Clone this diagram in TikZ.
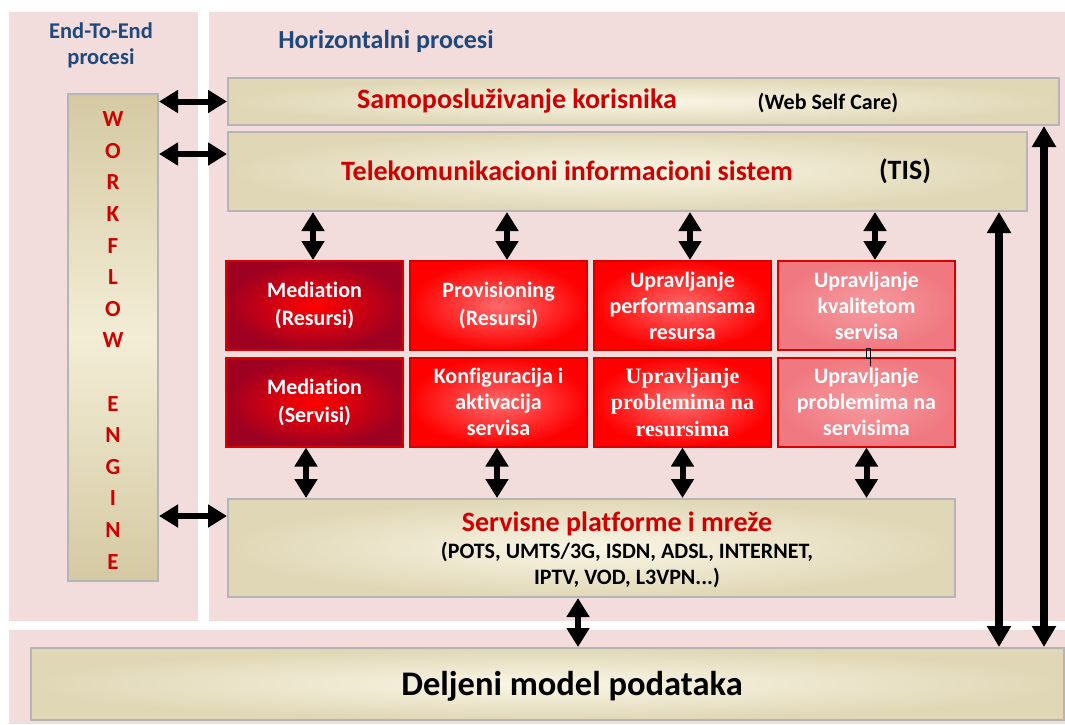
\documentclass[tikz,border=0pt]{standalone}
\usepackage{fontspec}
\setmainfont{Carlito}[Ligatures=NoCommon]
\newfontfamily\timesfont{Liberation Serif}
\usetikzlibrary{arrows.meta,positioning}

\definecolor{panelpink}{HTML}{F2DDDC}
\definecolor{boxgray}{HTML}{B5B5B5}
\definecolor{beigein}{HTML}{FAF6E6}
\definecolor{beigeout}{HTML}{E0D7B6}
\definecolor{wfdark}{HTML}{D4C9A2}
\definecolor{wflight}{HTML}{F3EDD6}
\definecolor{titleblue}{HTML}{1F497D}
\definecolor{labelred}{HTML}{D00000}
\definecolor{darkred}{HTML}{9E0022}
\definecolor{lightred}{HTML}{FF6A6A}
\definecolor{redline}{HTML}{D80000}
\definecolor{qosred}{HTML}{F07880}
\definecolor{qoslight}{HTML}{F59BA0}

\begin{document}
\begin{tikzpicture}[x=1pt, y=-1pt,
    panel/.style={fill=panelpink, draw=none, anchor=north west, inner sep=0pt},
    beige/.style={draw=boxgray, line width=2pt, inner color=beigein, outer color=beigeout, anchor=north west, inner sep=0pt},
    biglabel/.style={font=\fontsize{28}{33}\selectfont\bfseries},
    redbox/.style={draw=redline, line width=2pt, text=white, align=center, minimum width=177pt, minimum height=89pt, inner sep=0pt, font=\fontsize{22}{28}\selectfont\bfseries},
    threeline/.style={font=\fontsize{22}{26}\selectfont\bfseries},
    darkbox/.style={redbox, inner color=red, outer color=darkred},
    brightbox/.style={redbox, inner color=lightred, outer color=red},
    dotbox/.style={redbox, inner color=qoslight, outer color=qosred},
    dbl/.style={line width=6pt, {Triangle[width=22pt, length=19pt]}-{Triangle[width=22pt, length=19pt]}},
    longdbl/.style={line width=8pt, {Triangle[width=23pt, length=21pt]}-{Triangle[width=23pt, length=21pt]}},
    node distance=184pt]
  \useasboundingbox (0,0) rectangle (1065,724);

  % panels
  \node[panel, minimum width=189pt, minimum height=609pt] (e2e) at (9,12) {};
  \node[panel, minimum width=856pt, minimum height=609pt] (horiz) at (209,12) {};
  \node[panel, minimum width=1056pt, minimum height=94pt] (shared) at (9,630) {};

  \node[text=titleblue, font=\fontsize{22.5}{26}\selectfont\bfseries, align=center] (e2etitle) at (101,45) {End-To-End\\procesi};
  \node[text=titleblue, font=\fontsize{26}{30}\selectfont\bfseries] (htitle) at (386,41) {Horizontalni procesi};

  % workflow engine
  \node[draw=boxgray, line width=2pt, top color=wfdark, bottom color=wfdark, middle color=wflight, minimum width=90pt, minimum height=487pt, anchor=north west, inner sep=0pt] (wf) at (67,93) {};
  \node[text=labelred, align=center, font=\fontsize{23}{31.6}\selectfont\bfseries] (wftext) at ([yshift=-3pt]wf.center)
    {W\\O\\R\\K\\F\\L\\O\\W\\\mbox{}\\E\\N\\G\\I\\N\\E};

  % horizontal layers
  \node[beige, minimum width=831pt, minimum height=47pt] (self) at (227,77) {};
  \node[beige, minimum width=799pt, minimum height=79pt] (tis) at (227,131) {};
  \node[beige, minimum width=727pt, minimum height=98pt] (serv) at (227,498) {};
  \node[beige, minimum width=1033pt, minimum height=72pt] (shm) at (30,647) {};

  \node[text=labelred, biglabel] (selftext) at (517,101) {Samoposluživanje korisnika};
  \node[font=\fontsize{22}{26}\selectfont\bfseries] (selfweb) at (828,103) {(Web Self Care)};
  \node[text=labelred, biglabel] (tistext) at (567,171) {Telekomunikacioni informacioni sistem};
  \node[biglabel] (tisabbr) at (905,171) {(TIS)};
  \node[text=labelred, biglabel] (servtext) at (617,524) {Servisne platforme i mreže};
  \node[font=\fontsize{22}{26}\selectfont\bfseries, align=center] (servlist) at (627,565)
    {(POTS, UMTS/3G, ISDN, ADSL, INTERNET,\\IPTV, VOD, L3VPN...)};
  \node[font=\fontsize{34.5}{40}\selectfont\bfseries] (shmtext) at (572,686) {Deljeni model podataka};

  % functional blocks
  \node[darkbox] (medr) at (314.5,305.5) {Mediation\\(Resursi)};
  \node[brightbox, right of=medr] (provr) {Provisioning\\(Resursi)};
  \node[brightbox, threeline, right of=provr] (perf) {Upravljanje\\performansama\\resursa};
  \node[dotbox, threeline, right of=perf] (qos) {Upravljanje\\kvalitetom\\servisa};
  \node[darkbox, below of=medr, node distance=96.5pt] (meds) {Mediation\\(Servisi)};
  \node[brightbox, threeline, below of=provr, node distance=96.5pt] (konf) {Konfiguracija i\\aktivacija\\servisa};
  \node[brightbox, below of=perf, node distance=96.5pt, font=\fontsize{22}{26.5}\selectfont\timesfont\bfseries] (probr) {Upravljanje\\problemima na\\resursima};
  \node[dotbox, threeline, below of=qos, node distance=96.5pt] (probs) {Upravljanje\\problemima na\\servisima};

  \draw[line width=0.6pt] ([xshift=-0.5pt, yshift=3pt]qos.south) rectangle ([xshift=3.5pt, yshift=-7pt]qos.south);
  \draw[line width=0.8pt] ([xshift=3.5pt, yshift=-7pt]qos.south) -- ([xshift=3.5pt, yshift=-9pt]probs.north);

  % connectors
  \draw[dbl] (wf.east |- self.west) -- (self.west);
  \coordinate (tisin) at ([yshift=17.5pt]tis.west);
  \draw[dbl] (wf.east |- tisin) -- (tisin);
  \coordinate (servin) at ([yshift=32pt]serv.west);
  \draw[dbl] (wf.east |- servin) -- (servin);

  \draw[dbl] ([xshift=-1.5pt]medr.north |- tis.south) -- ([xshift=-1.5pt]medr.north);
  \draw[dbl] ([xshift=8.5pt]provr.north |- tis.south) -- ([xshift=8.5pt]provr.north);
  \draw[dbl] ([xshift=7.5pt]perf.north |- tis.south) -- ([xshift=7.5pt]perf.north);
  \draw[dbl] ([xshift=8.5pt]qos.north |- tis.south) -- ([xshift=8.5pt]qos.north);

  \draw[dbl] ([xshift=-8.5pt]meds.south) -- ([xshift=-8.5pt]meds.south |- serv.north);
  \draw[dbl] ([xshift=-1.5pt]konf.south) -- ([xshift=-1.5pt]konf.south |- serv.north);
  \draw[dbl] (probr.south) -- (probr.south |- serv.north);
  \draw[dbl] (probs.south) -- (probs.south |- serv.north);

  \draw[dbl] ([xshift=-13.5pt]serv.south) -- ([xshift=-13.5pt]serv.south |- shm.north);
  \draw[longdbl] ([xshift=-29pt]tis.south east) -- ([xshift=-29pt]tis.south east |- shm.north);
  \draw[longdbl] ([xshift=-16pt]self.south east) -- ([xshift=-16pt]self.south east |- shm.north);
\end{tikzpicture}
\end{document}
